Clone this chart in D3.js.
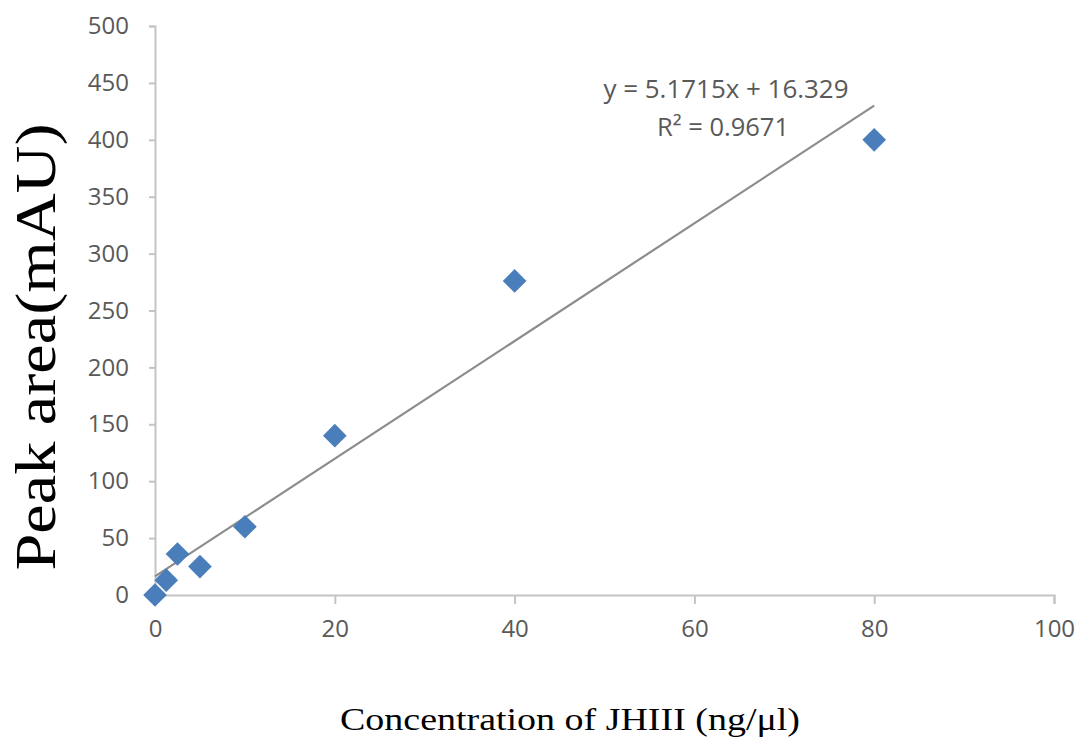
<!DOCTYPE html>
<html>
<head>
<meta charset="utf-8">
<script src="https://cdn.jsdelivr.net/npm/d3@7"></script>
<style>
  body { margin: 0; background: #fff; }
  .tick text { font-family: "Open Sans", sans-serif; fill: #595959; }
</style>
</head>
<body>
<svg id="graph" width="1082" height="743"></svg>
<script>
//Concentrations and measured peak areas
let concentration = [0, 1.25, 2.5, 5, 10, 20, 40, 80];
let peakArea = [0, 13, 36, 25, 60, 140, 276, 400];
//Tick values for both axes
let xTicks = [0, 20, 40, 60, 80, 100];
let yTicks = [0, 50, 100, 150, 200, 250, 300, 350, 400, 450, 500];
//Linear fit from the original chart
let slope = 5.1715;
let intercept = 16.329;
let fitRange = [0, 80];

let margin = { top: 26, right: 28, bottom: 148, left: 155 };
let svg = d3.select("#graph");
let width = 1082 - margin.left - margin.right;
let height = 743 - margin.top - margin.bottom;

let x = d3.scaleLinear().domain([0, 100]).range([0, width]);
let y = d3.scaleLinear().domain([0, 500]).range([height, 0]);

let g = svg.append("g").attr("transform", "translate(" + margin.left + "," + margin.top + ")");

//x axis
let xAxis = g.append("g")
  .attr("transform", "translate(0," + height + ")")
  .call(d3.axisBottom(x).tickValues(xTicks).tickSize(9).tickPadding(16));
//y axis
let yAxis = g.append("g")
  .call(d3.axisLeft(y).tickValues(yTicks).tickSize(6).tickPadding(20));

[xAxis, yAxis].forEach(function (a) {
  a.select(".domain").attr("stroke", "#c4c4c4").attr("stroke-width", 2);
  a.selectAll(".tick line").attr("stroke", "#c4c4c4").attr("stroke-width", 2);
  a.selectAll(".tick text").style("font-size", "24px");
});

//trend line
g.append("line")
  .attr("x1", x(fitRange[0]))
  .attr("y1", y(slope * fitRange[0] + intercept))
  .attr("x2", x(fitRange[1]))
  .attr("y2", y(slope * fitRange[1] + intercept))
  .attr("stroke", "#8c8c8c")
  .attr("stroke-width", 2.2);

//diamond markers
let points = concentration.map(function (c, i) { return { x: c, y: peakArea[i] }; });
g.selectAll(".pt")
  .data(points)
  .enter().append("path")
  .attr("class", "pt")
  .attr("d", d3.symbol().type(d3.symbolSquare).size(280))
  .attr("transform", function (d) { return "translate(" + x(d.x) + "," + y(d.y) + ") rotate(45)"; })
  .attr("fill", "#4a7ebb");

//equation labels
g.append("text")
  .attr("x", 571).attr("y", 72)
  .attr("text-anchor", "middle")
  .style("font-family", "Open Sans, sans-serif").style("font-size", "25px").attr("fill", "#595959")
  .attr("textLength", 245).attr("lengthAdjust", "spacingAndGlyphs")
  .text("y = 5.1715x + 16.329");
g.append("text")
  .attr("x", 568).attr("y", 110)
  .attr("text-anchor", "middle")
  .style("font-family", "Open Sans, sans-serif").style("font-size", "25px").attr("fill", "#595959")
  .attr("textLength", 132).attr("lengthAdjust", "spacingAndGlyphs")
  .text("R² = 0.9671");

//axis titles
svg.append("text")
  .attr("transform", "translate(55,347) rotate(-90)")
  .attr("text-anchor", "middle")
  .style("font-family", "Liberation Serif, Times New Roman, serif").style("font-size", "58px")
  .attr("textLength", 447).attr("lengthAdjust", "spacingAndGlyphs")
  .text("Peak area(mAU)");
svg.append("text")
  .attr("x", 570).attr("y", 730)
  .attr("text-anchor", "middle")
  .style("font-family", "Liberation Serif, Times New Roman, serif").style("font-size", "31px")
  .attr("textLength", 460).attr("lengthAdjust", "spacingAndGlyphs")
  .text("Concentration of JHIII (ng/μl)");
</script>
</body>
</html>
